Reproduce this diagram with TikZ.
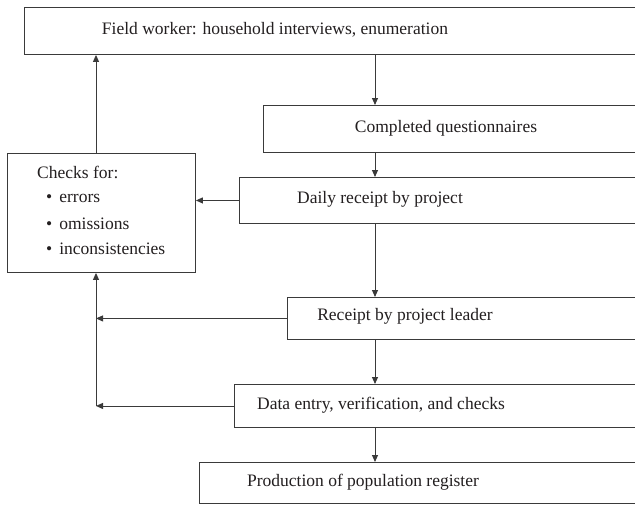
\documentclass[tikz,border=0pt]{standalone}
\usepackage{fontspec}
\setmainfont{Liberation Serif}
\usetikzlibrary{arrows.meta}
\definecolor{ln}{HTML}{3A3A3A}
\definecolor{tx}{HTML}{231F20}
\begin{document}
\begin{tikzpicture}[x=1pt,y=-1pt,
  box/.style={draw=ln,line width=0.9pt,inner sep=0pt,anchor=north west,fill=white},
  lbl/.style={text=tx,inner sep=0pt,font=\fontsize{17.5}{21}\selectfont},
  arr/.style={draw=ln,line width=0.9pt,-{Triangle[length=7pt,width=6pt]}},
  ln/.style={draw=ln,line width=0.9pt}]
\useasboundingbox (0,0) rectangle (635,504);
\clip (0,0) rectangle (635,504);
% boxes
\node[box,minimum width=636pt,minimum height=47pt] (top) at (24,7) {};
\node[box,minimum width=397pt,minimum height=47pt] (comp) at (263,105) {};
\node[box,minimum width=421pt,minimum height=46pt] (daily) at (239,177) {};
\node[box,minimum width=188pt,minimum height=119pt] (checks) at (7,153) {};
\node[box,minimum width=373pt,minimum height=42pt] (recv) at (287,297) {};
\node[box,minimum width=426pt,minimum height=43pt] (data) at (234,384) {};
\node[box,minimum width=461pt,minimum height=41pt] (prod) at (199,462) {};
% labels
\node[lbl] (ttop) at (275,30) {Field worker: household interviews, enumeration};
\node[lbl] (tcomp) at (446,128) {Completed questionnaires};
\node[lbl] (tdaily) at (380,199) {Daily receipt by project};
\node[lbl] (trecv) at (405,316) {Receipt by project leader};
\node[lbl] (tdata) at (381,405) {Data entry, verification, and checks};
\node[lbl] (tprod) at (363,482) {Production of population register};
\node[lbl,anchor=west] (c0) at (37,172) {Checks for:};
\node[lbl,anchor=west] (c1) at (46,198) {\textbullet\hspace{7pt}errors};
\node[lbl,anchor=west] (c2) at (46,224) {\textbullet\hspace{7pt}omissions};
\node[lbl,anchor=west] (c3) at (46,249) {\textbullet\hspace{7pt}inconsistencies};
% connector guides
\coordinate (mx) at (375,0);
\coordinate (lx) at (96,0);
% connectors
\draw[arr] (top.south -| mx) -- (comp.north -| mx);
\draw[arr] (comp.south -| mx) -- (daily.north -| mx);
\draw[arr] (daily.south -| mx) -- (recv.north -| mx);
\draw[arr] (recv.south -| mx) -- (data.north -| mx);
\draw[arr] (data.south -| mx) -- (prod.north -| mx);
\draw[arr] (checks.north -| lx) -- (top.south -| lx);
\draw[arr] (daily.west) -- (checks.east |- daily.west);
\draw[arr] (recv.west) -- (recv.west -| lx);
\draw[arr] (data.west) -- (data.west -| lx);
\draw[arr] (data.west -| lx) -- (checks.south -| lx);
\end{tikzpicture}
\end{document}
